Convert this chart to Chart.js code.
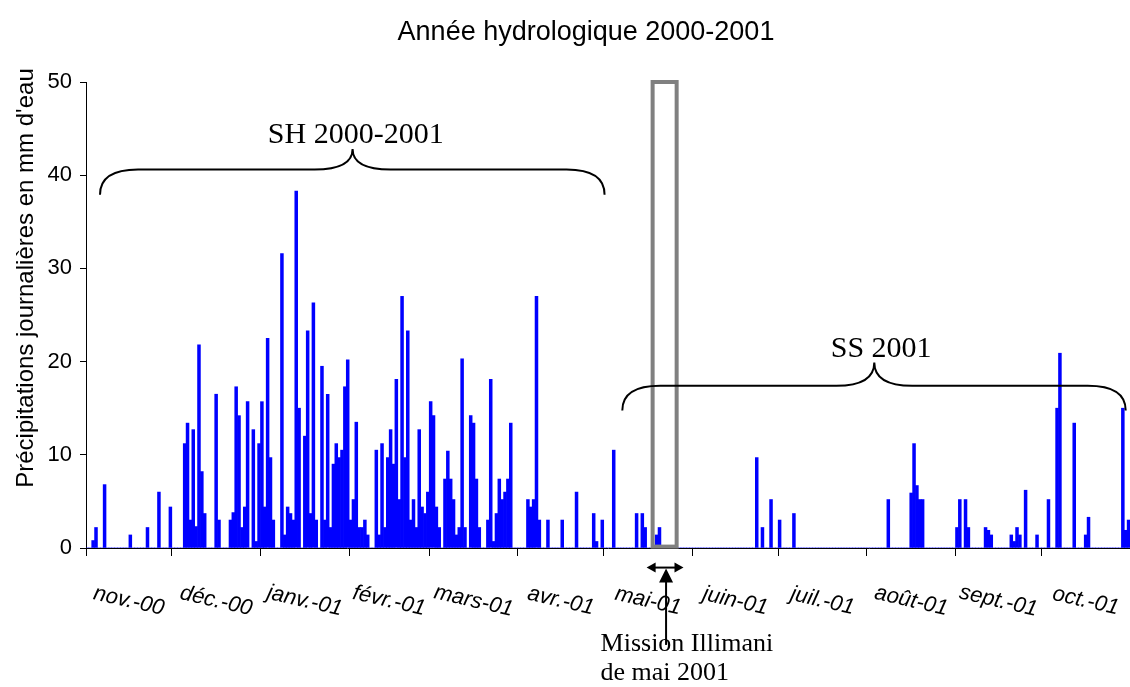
<!DOCTYPE html>
<html>
<head>
<meta charset="utf-8">
<script src="https://cdn.jsdelivr.net/npm/chart.js@4.4.0/dist/chart.umd.min.js"></script>
<style>
  html, body { margin: 0; padding: 0; background: #fff; }
</style>
</head>
<body>
<canvas id="pluieChart" width="1130" height="687"></canvas>
<script>
// pluie journaliere (mm d'eau), un tableau par mois, annee hydrologique nov. 2000 - oct. 2001
var pluieNov = [0,0,0.8,2.2,0,0,6.8,0,0,0, 0,0,0,0,0,1.4,0,0,0,0, 0,2.2,0,0,0,6.0,0,0,0,4.4];
var pluieDec = [0,0,0,0,11.2,13.4,3.0,12.7,2.3,21.8, 8.2,3.7,0,0,0,16.5,3.0,0,0,0, 3.0,3.8,17.3,14.2,2.2,4.4,15.7,0,12.7,0.7, 11.2];
var pluieJan = [15.7,4.4,22.5,9.7,3.0,0,0,31.6,1.4,4.4, 3.7,3.0,38.3,15.0,0,12.0,23.3,3.7,26.3,3.0, 0,19.5,3.0,16.5,2.2,9.0,11.2,9.7,10.5,17.3, 20.2];
var pluieFev = [3.0,5.2,13.5,2.2,2.2,3.0,1.4,0,0,10.5, 1.4,11.2,2.2,9.7,12.7,9.0,18.1,5.2,27.0,9.7, 23.3,3.0,5.2,2.2,12.7,4.4,3.7,6.0];
var pluieMar = [15.7,14.2,4.4,2.2,0,7.4,10.4,7.4,5.2,1.4, 2.2,20.3,2.2,0,14.2,13.4,7.4,2.2,0,0, 3.0,18.1,0.7,3.7,7.4,5.2,6.0,7.4,13.4,0, 0];
var pluieAvr = [0,0,0,5.2,4.4,5.2,27.0,3.0,0,0, 3.0,0,0,0,0,3.0,0,0,0,0, 6.0,0,0,0,0,0,3.7,0.7,0,3.0];
var pluieMai = [0,0,0,10.5,0,0,0,0,0,0, 0,3.7,0,3.7,2.2,0,0,0,1.4,2.2, 0,0,0,0,0,0,0,0,0,0, 0];
var pluieJuin = [0,0,0,0,0,0,0,0,0,0, 0,0,0,0,0,0,0,0,0,0, 0,0,9.7,0,2.2,0,0,5.2,0,0];
var pluieJuil = [3.0,0,0,0,0,3.7,0,0,0,0, 0,0,0,0,0,0,0,0,0,0, 0,0,0,0,0,0,0,0,0,0, 0];
var pluieAout = [0,0,0,0,0,0,0,5.2,0,0, 0,0,0,0,0,5.9,11.2,6.7,5.2,5.2, 0,0,0,0,0,0,0,0,0,0, 0];
var pluieSept = [2.2,5.2,0,5.2,2.2,0,0,0,0,0, 2.2,1.9,1.4,0,0,0,0,0,0,1.4, 0.7,2.2,1.4,0,6.2,0,0,0,1.4,0];
var pluieOct = [0,0,5.2,0,0,15.0,20.9,0,0,0, 0,13.4,0,0,0,1.4,3.3,0,0,0, 0,0,0,0,0,0,0,0,15.0,1.9, 3.0];

var moisLabels = ["nov.-00", "déc.-00", "janv.-01", "févr.-01", "mars-01", "avr.-01",
                  "mai-01", "juin-01", "juil.-01", "août-01", "sept.-01", "oct.-01"];
var pluieMois = [pluieNov, pluieDec, pluieJan, pluieFev, pluieMar, pluieAvr,
                 pluieMai, pluieJuin, pluieJuil, pluieAout, pluieSept, pluieOct];

// jour n (0 = 1er nov.) -> valeur
var debutMois = [];
var points = [];
var n = 0;
pluieMois.forEach(function (mois) {
    debutMois.push(n);
    mois.forEach(function (v) {
        points.push({x: n, y: v});
        n++;
    });
});
debutMois.push(n);

// annotations, en unites du graphique (jour, mm)
var notes = {
    accoladeSH: {x0: 4.4, x1: 180.8, xc: 92.7, yBout: 37.9, yLigne: 40.6, yPointe: 42.8},
    accoladeSS: {x0: 187.0, x1: 363.0, xc: 275.1, yBout: 14.75, yLigne: 17.4, yPointe: 19.9},
    texteSH: {x: 93.8, y: 43.5, txt: "SH 2000-2001"},
    texteSS: {x: 277.5, y: 20.5, txt: "SS 2001"},
    cadre: {x0: 197.6, x1: 206.0, y0: 0.15, y1: 50},
    fleche: {x0: 195.5, x1: 208.4, y: -2.1, xv: 202.3, yBas: -10.4},
    mission: {x: 179.4, y1: -11.05, y2: -14.2, lignes: ["Mission Illimani", "de mai 2001"]}
};

var SANS = '"Liberation Sans", Arial, sans-serif';
var SERIF = '"Liberation Serif", "Times New Roman", serif';

function accolade(ctx, a, sx, sy) {
    var x0 = sx.getPixelForValue(a.x0), x1 = sx.getPixelForValue(a.x1), xc = sx.getPixelForValue(a.xc);
    var yb = sy.getPixelForValue(a.yBout), yl = sy.getPixelForValue(a.yLigne), yp = sy.getPixelForValue(a.yPointe);
    var r = 38;
    ctx.beginPath();
    ctx.moveTo(x0, yb);
    ctx.quadraticCurveTo(x0, yl, x0 + r, yl);
    ctx.lineTo(xc - r, yl);
    ctx.quadraticCurveTo(xc, yl, xc, yp);
    ctx.quadraticCurveTo(xc, yl, xc + r, yl);
    ctx.lineTo(x1 - r, yl);
    ctx.quadraticCurveTo(x1, yl, x1, yb);
    ctx.stroke();
}

function pointe(ctx, x, y, dx, dy, len, half) {
    // triangle plein, sommet en (x, y), dirige selon (dx, dy)
    ctx.beginPath();
    ctx.moveTo(x, y);
    ctx.lineTo(x - dx * len - dy * half, y - dy * len + dx * half);
    ctx.lineTo(x - dx * len + dy * half, y - dy * len - dx * half);
    ctx.closePath();
    ctx.fill();
}

var decor = {
    id: 'decor',
    afterDraw: function (chart) {
        var ctx = chart.ctx;
        var sx = chart.scales.x, sy = chart.scales.y;
        ctx.save();

        // titre
        ctx.fillStyle = '#000';
        ctx.font = '27px ' + SANS;
        ctx.textAlign = 'center';
        ctx.textBaseline = 'alphabetic';
        ctx.fillText("Année hydrologique 2000-2001", 586, 40);

        // titre de l'axe y
        ctx.save();
        ctx.translate(26, 278);
        ctx.rotate(-Math.PI / 2);
        ctx.font = '24px ' + SANS;
        ctx.textBaseline = 'middle';
        ctx.fillText("Précipitations journalières en mm d'eau", 0, 0);
        ctx.restore();

        // etiquettes des mois, au milieu de chaque mois
        ctx.font = 'italic 22px ' + SANS;
        ctx.textBaseline = 'middle';
        moisLabels.forEach(function (lab, i) {
            var xm = sx.getPixelForValue((debutMois[i] + debutMois[i + 1]) / 2 - 0.5);
            ctx.save();
            ctx.translate(xm, 601);
            ctx.rotate(13 * Math.PI / 180);
            ctx.fillText(lab, 0, 0);
            ctx.restore();
        });

        // cadre gris de la mission
        var c = notes.cadre;
        ctx.strokeStyle = '#808080';
        ctx.lineWidth = 4;
        ctx.strokeRect(sx.getPixelForValue(c.x0), sy.getPixelForValue(c.y1),
            sx.getPixelForValue(c.x1) - sx.getPixelForValue(c.x0),
            sy.getPixelForValue(c.y0) - sy.getPixelForValue(c.y1));

        // accolades
        ctx.strokeStyle = '#000';
        ctx.lineWidth = 2;
        accolade(ctx, notes.accoladeSH, sx, sy);
        accolade(ctx, notes.accoladeSS, sx, sy);

        ctx.font = '30px ' + SERIF;
        ctx.textAlign = 'center';
        ctx.textBaseline = 'alphabetic';
        [notes.texteSH, notes.texteSS].forEach(function (t) {
            ctx.fillText(t.txt, sx.getPixelForValue(t.x), sy.getPixelForValue(t.y));
        });

        // fleches
        var f = notes.fleche;
        var fx0 = sx.getPixelForValue(f.x0), fx1 = sx.getPixelForValue(f.x1), fy = sy.getPixelForValue(f.y);
        var fxv = sx.getPixelForValue(f.xv), fyb = sy.getPixelForValue(f.yBas);
        ctx.lineWidth = 2;
        ctx.beginPath();
        ctx.moveTo(fx0 + 6, fy);
        ctx.lineTo(fx1 - 6, fy);
        ctx.stroke();
        pointe(ctx, fx0, fy, -1, 0, 9, 5);
        pointe(ctx, fx1, fy, 1, 0, 9, 5);
        ctx.beginPath();
        ctx.moveTo(fxv, fyb);
        ctx.lineTo(fxv, fy + 10);
        ctx.stroke();
        pointe(ctx, fxv, fy + 1, 0, -1, 14, 7);

        // texte de la mission
        var m = notes.mission;
        ctx.font = '26px ' + SERIF;
        ctx.textAlign = 'left';
        ctx.fillText(m.lignes[0], sx.getPixelForValue(m.x), sy.getPixelForValue(m.y1));
        ctx.fillText(m.lignes[1], sx.getPixelForValue(m.x), sy.getPixelForValue(m.y2));

        ctx.restore();
    }
};

new Chart("pluieChart", {
    type: "bar",
    data: {
        datasets: [{
            data: points,
            backgroundColor: "#0000ff",
            borderWidth: 0,
            barPercentage: 1,
            categoryPercentage: 1
        }]
    },
    options: {
        responsive: false,
        animation: false,
        layout: {padding: {left: 0, right: 0, top: 82, bottom: 131}},
        plugins: {legend: {display: false}, tooltip: {enabled: false}},
        scales: {
            x: {
                type: "linear",
                min: -0.5,
                max: 364.5,
                offset: false,
                afterBuildTicks: function (s) {
                    s.ticks = debutMois.slice(0, 12).map(function (d) { return {value: d - 0.5}; });
                },
                afterFit: function (s) { s.height = 8; },
                ticks: {display: false, autoSkip: false},
                grid: {offset: false, drawOnChartArea: false, drawTicks: true, tickLength: 8, color: "#000"},
                border: {color: "#000", width: 1}
            },
            y: {
                min: 0,
                max: 50,
                afterFit: function (s) { s.width = 86; },
                ticks: {stepSize: 10, color: "#000", padding: 8, font: {family: SANS, size: 22}},
                grid: {drawOnChartArea: false, tickLength: 6, color: "#000"},
                border: {color: "#000", width: 1}
            }
        }
    },
    plugins: [decor]
});
</script>
</body>
</html>
